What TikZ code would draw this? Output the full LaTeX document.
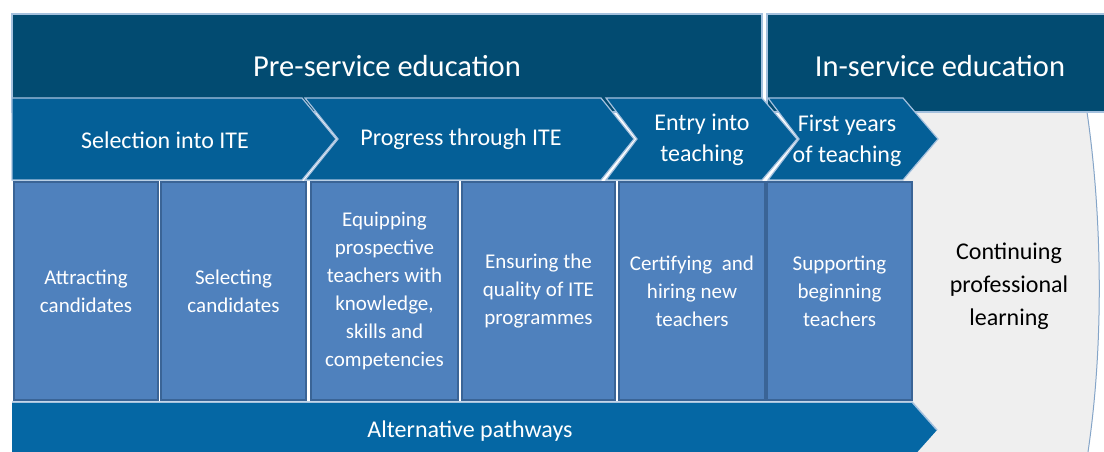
\documentclass[tikz,border=0pt]{standalone}
\usepackage{fontspec}
\setmainfont{Carlito}
\usetikzlibrary{arrows}
\definecolor{cnavy}{RGB}{2,75,113}
\definecolor{cchev}{RGB}{4,95,151}
\definecolor{cbox}{RGB}{79,129,189}
\definecolor{cboxline}{RGB}{58,100,150}
\definecolor{cpath}{RGB}{5,103,164}
\definecolor{cgrey}{RGB}{239,239,239}
\definecolor{cedge}{RGB}{165,193,222}

\begin{document}
\begin{tikzpicture}[x=1pt,y=-1pt,
  band/.style={fill=cnavy,draw=cedge,line width=1.2pt},
  chev/.style={fill=cchev,draw=cedge,line width=1.2pt},
  head node/.style={text=white,font=\fontsize{30.5}{36}\selectfont},
  label node/.style={text=white,align=center,inner sep=0pt,font=\fontsize{24}{31}\selectfont},
  box node/.style={rectangle,fill=cbox,draw=cboxline,line width=1.5pt,text=white,align=center,
    minimum height=218pt,inner sep=0pt,font=\fontsize{21}{28}\selectfont}]
  \useasboundingbox (0,0) rectangle (1104,452);

  % in-service background
  \fill[cgrey] (900,112) -- (1087,112) .. controls (1100,200) and (1106,330) .. (1088,452) -- (900,452) -- cycle;
  \draw[cedge!70!cboxline,line width=1pt] (1087,112) .. controls (1100,200) and (1106,330) .. (1088,452);
  \node[align=center,font=\fontsize{24}{33}\selectfont] (cpl) at (1009,286) {Continuing\\professional\\learning};

  % top bands
  \draw[band] (12,14) rectangle (762,112);
  \draw[band] (767,14) rectangle (1110,112);
  \node[head node] (pre) at (387,66) {Pre-service education};
  \node[head node] (in) at (940,66) {In-service education};

  % stages
  \draw[chev] (12,98) -- (302,98) -- (336,139) -- (302,180) -- (12,180) -- cycle;
  \draw[chev] (305,98) -- (601,98) -- (634,139) -- (601,180) -- (305,180) -- (338,139) -- cycle;
  \draw[chev] (606,98) -- (762,98) -- (797,139) -- (762,180) -- (606,180) -- (637,139) -- cycle;
  \draw[chev] (768,98) -- (903,98) -- (938,139) -- (903,180) -- (768,180) -- (799,139) -- cycle;
  \node[label node] (sel) at (165,140) {Selection into ITE};
  \node[label node] (prog) at (461,139) {Progress through ITE};
  \node[label node] (entry) at (702,140) {Entry into\\teaching};
  \node[label node] (first) at (847,141) {First years\\of teaching};

  % policy areas
  \node[box node,minimum width=144pt] (attr) at (86,291) {Attracting\\candidates};
  \node[box node,minimum width=145pt] (selc) at (233.5,291) {Selecting\\candidates};
  \node[box node,minimum width=147pt] (equip) at (384.5,291) {Equipping\\prospective\\teachers with\\knowledge,\\skills and\\competencies};
  \node[box node,minimum width=153pt] (qual) at (538.5,291) {Ensuring the\\quality of ITE\\programmes};
  \node[box node,minimum width=146pt] (cert) at (692,291) {Certifying\ \ and\\hiring new\\teachers};
  \node[box node,minimum width=145pt] (supp) at (839.5,291) {Supporting\\beginning\\teachers};

  % alternative pathways
  \fill[cpath] (12,402) -- (912,402) -- (937,430) -- (912,458) -- (12,458) -- cycle;
  \draw[cedge,line width=1.5pt] (12,402) -- (912,402) -- (937,430);
  \node[label node] (alt) at (470,431) {Alternative pathways};
\end{tikzpicture}
\end{document}
